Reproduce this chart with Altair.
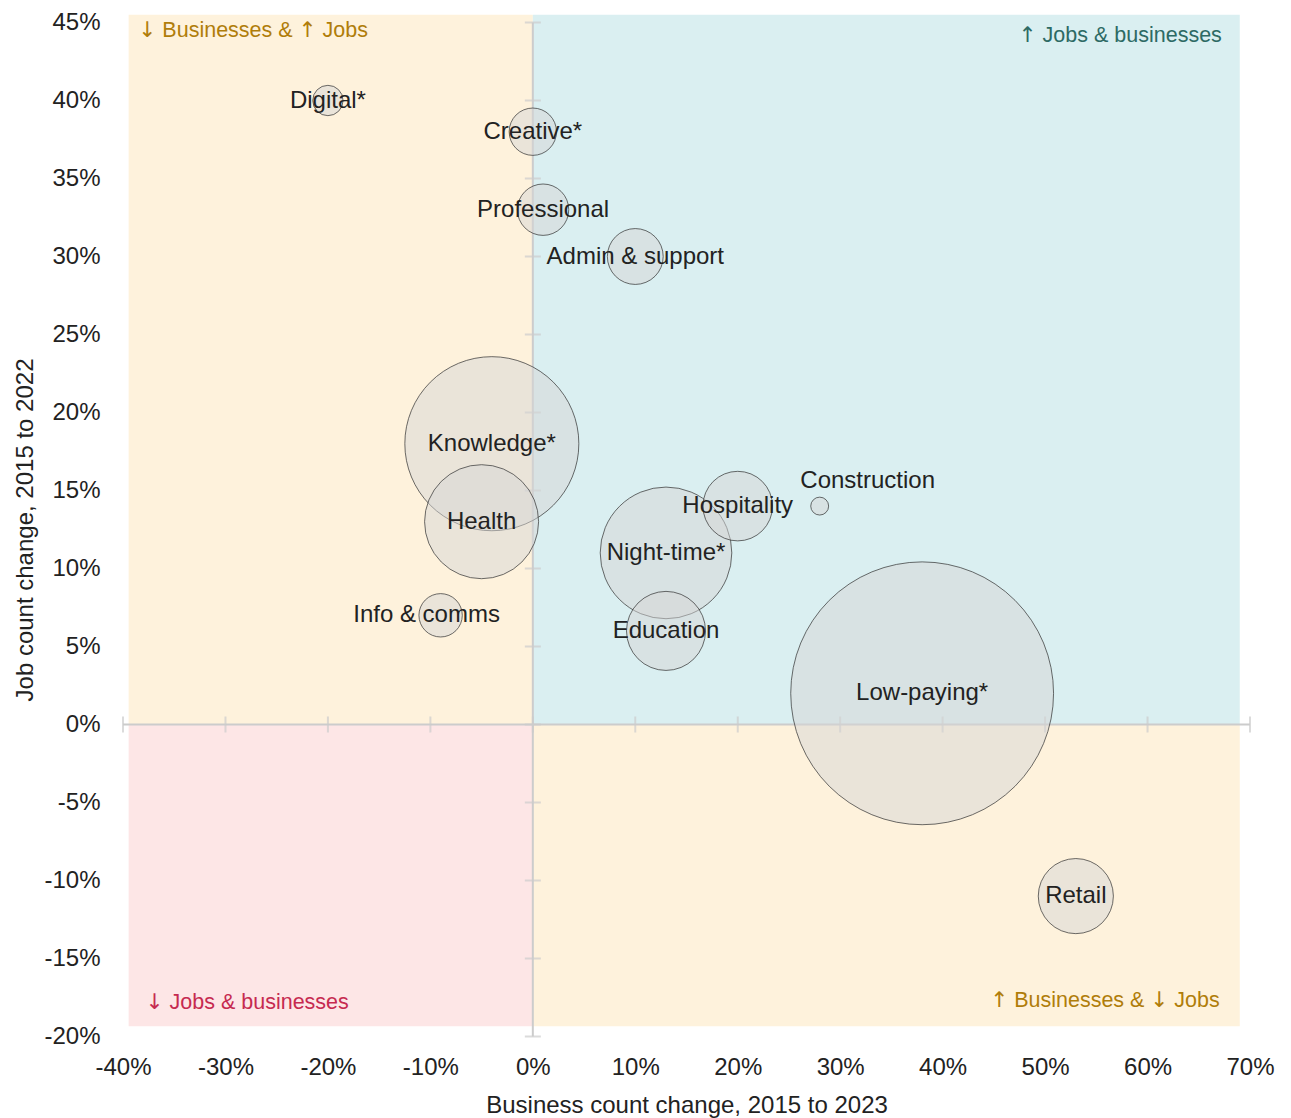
import altair as alt
import pandas as pd

# ---- data ----
sectors = ["Digital*", "Creative*", "Professional", "Admin & support", "Knowledge*",
           "Health", "Info & comms", "Night-time*", "Education", "Hospitality",
           "Construction", "Low-paying*", "Retail"]
business_change = [-20, 0, 1, 10, -4, -5, -9, 13, 13, 20, 28, 38, 53]   # %, 2015-2023
job_change = [40, 38, 33, 30, 18, 13, 7, 11, 6, 14, 14, 2, -11]          # %, 2015-2022
job_volume = [23, 56, 66, 78, 757, 325, 47, 433, 156, 121, 8, 1727, 141]  # bubble size (relative)

x_ticks = [-40, -30, -20, -10, 0, 10, 20, 30, 40, 50, 60, 70]
y_ticks = [-20, -15, -10, -5, 0, 5, 10, 15, 20, 25, 30, 35, 40, 45]

quad_x1 = [-39.45, 0, -39.45, 0]
quad_x2 = [0, 69, 0, 69]
quad_y1 = [0, 0, -19.35, -19.35]
quad_y2 = [45.5, 45.5, 0, 0]
quad_fill = ["#fef2dc", "#daeff1", "#fde6e6", "#fef2dc"]

quad_labels = ["↓ Businesses & ↑ Jobs", "↑ Jobs & businesses", "↓ Jobs & businesses", "↑ Businesses & ↓ Jobs"]
quad_lx = [-38.5, 67.25, -37.8, 67.05]
quad_ly = [44.46, 44.13, -17.85, -17.72]
quad_side = ["left", "right", "left", "right"]
quad_color = ["#b07d0a", "#2d6a64", "#c62a50", "#b07d0a"]

FONT = "Liberation Sans"
ARROW_FONT = "DejaVu Sans"
TXT = "#222222"
AX = "#cccccc"
W, H = 1127, 1014
QFS = 21.5

# ---- quadrant labels split into text / arrow pieces (arrows drawn in a wider glyph) ----
ARIAL = {" ": 278, "B": 667, "u": 556, "s": 500, "i": 222, "n": 556, "e": 556, "&": 667,
         "J": 500, "o": 556, "b": 556}
ARROW_W = 0.838
px_per_x = W / (max(x_ticks) - min(x_ticks))


def tw(s):
    return sum(ARIAL.get(c, 556) for c in s) / 1000 * QFS


rows = []
for label, ax, ay, side, col in zip(quad_labels, quad_lx, quad_ly, quad_side, quad_color):
    segs, buf = [], ""
    for ch in label:
        if ch in "↑↓":
            if buf:
                segs.append((buf, "text"))
                buf = ""
            segs.append((ch, "arrow"))
        else:
            buf += ch
    if buf:
        segs.append((buf, "text"))
    widths = [ARROW_W * QFS if k == "arrow" else tw(s) for s, k in segs]
    total = sum(widths)
    cursor = ax * px_per_x if side == "left" else ax * px_per_x - total
    for (s, k), w in zip(segs, widths):
        lead = len(s) - len(s.lstrip(" "))
        pos = cursor + lead * ARIAL[" "] / 1000 * QFS
        rows.append({"piece": s.strip(), "kind": k, "x": pos / px_per_x, "y": ay, "color": col})
        cursor += w
qpieces = pd.DataFrame(rows)

df = pd.DataFrame({"sector": sectors, "bx": business_change, "jy": job_change, "vol": job_volume})
df = df.sort_values("vol", ascending=False)
quads = pd.DataFrame({"x1": quad_x1, "x2": quad_x2, "y1": quad_y1, "y2": quad_y2, "fill": quad_fill})
xt = pd.DataFrame({"v": x_ticks, "zero": 0})
yt = pd.DataFrame({"v": y_ticks, "zero": 0})
xline = pd.DataFrame({"a": [min(x_ticks)], "b": [max(x_ticks)], "zero": [0]})
yline = pd.DataFrame({"a": [min(y_ticks)], "b": [max(y_ticks)], "zero": [0]})

xscale = alt.Scale(domain=[min(x_ticks), max(x_ticks)], nice=False, zero=False)
yscale = alt.Scale(domain=[min(y_ticks), max(y_ticks)], nice=False, zero=False)

x_axis = alt.Axis(values=x_ticks, labelExpr="datum.value + '%'",
                  title="Business count change, 2015 to 2023",
                  domain=False, ticks=False, tickSize=0, grid=False,
                  labelPadding=19, titlePadding=14, labelFlush=False, labelOverlap=False,
                  labelFontSize=24, titleFontSize=24, labelFont=FONT, titleFont=FONT,
                  labelColor=TXT, titleColor=TXT, titleFontWeight="normal")
y_axis = alt.Axis(values=y_ticks, labelExpr="datum.value + '%'",
                  title="Job count change, 2015 to 2022",
                  domain=False, ticks=False, tickSize=0, grid=False,
                  labelPadding=23, titlePadding=6, labelFlush=False, labelOverlap=False,
                  labelFontSize=24, titleFontSize=24, labelFont=FONT, titleFont=FONT,
                  labelColor=TXT, titleColor=TXT, titleFontWeight="normal")


def X(field):
    return alt.X(field, type="quantitative", scale=xscale, axis=x_axis)


def Y(field):
    return alt.Y(field, type="quantitative", scale=yscale, axis=y_axis)


bg = alt.Chart(quads).mark_rect(strokeWidth=0).encode(
    x=X("x1"), x2="x2", y=Y("y1"), y2="y2", fill=alt.Fill("fill:N", scale=None))

xaxis_line = alt.Chart(xline).mark_rule(color=AX, strokeWidth=2).encode(
    x=X("a"), x2="b", y=Y("zero"))
yaxis_line = alt.Chart(yline).mark_rule(color=AX, strokeWidth=2).encode(
    x=X("zero"), y=Y("a"), y2="b")
xtick_marks = alt.Chart(xt).mark_tick(orient="vertical", size=16, thickness=2, color=AX).encode(
    x=X("v"), y=Y("zero"))
ytick_marks = alt.Chart(yt).mark_tick(orient="horizontal", size=16, thickness=2, color=AX).encode(
    x=X("zero"), y=Y("v"))

bubbles = alt.Chart(df).mark_circle(color="#d6d6d6", fillOpacity=0.5, stroke="#333333",
                                    strokeWidth=0.8, strokeOpacity=0.9).encode(
    x=X("bx"), y=Y("jy"),
    size=alt.Size("vol:Q", scale=alt.Scale(domain=[0, 1750], range=[0, 70000], zero=True), legend=None))

lab_main = alt.Chart(df).transform_filter(
    "datum.sector != 'Info & comms' && datum.sector != 'Construction'"
).mark_text(fontSize=24, font=FONT, color=TXT, align="center", baseline="middle").encode(
    x=X("bx"), y=Y("jy"), text="sector:N")
lab_info = alt.Chart(df).transform_filter("datum.sector == 'Info & comms'").mark_text(
    fontSize=24, font=FONT, color=TXT, align="center", baseline="middle", dx=-14).encode(
    x=X("bx"), y=Y("jy"), text="sector:N")
lab_cons = alt.Chart(df).transform_filter("datum.sector == 'Construction'").mark_text(
    fontSize=24, font=FONT, color=TXT, align="center", baseline="middle", dx=48, dy=-25).encode(
    x=X("bx"), y=Y("jy"), text="sector:N")

q_text = alt.Chart(qpieces).transform_filter("datum.kind == 'text'").mark_text(
    fontSize=QFS, font=FONT, align="left", baseline="middle").encode(
    x=X("x"), y=Y("y"), text="piece:N", color=alt.Color("color:N", scale=None))
q_arrow = alt.Chart(qpieces).transform_filter("datum.kind == 'arrow'").mark_text(
    fontSize=QFS, font=ARROW_FONT, align="left", baseline="middle").encode(
    x=X("x"), y=Y("y"), text="piece:N", color=alt.Color("color:N", scale=None))

chart = alt.layer(
    bg, xaxis_line, yaxis_line, xtick_marks, ytick_marks, bubbles,
    lab_main, lab_info, lab_cons, q_text, q_arrow
).properties(
    width=W, height=H,
    autosize=alt.AutoSizeParams(type="none"),
    padding={"left": 115, "top": 14.5, "right": 30, "bottom": 84},
    background="white",
).configure_view(stroke=None)

chart.save("out.html", embed_options={"renderer": "svg", "actions": False})
